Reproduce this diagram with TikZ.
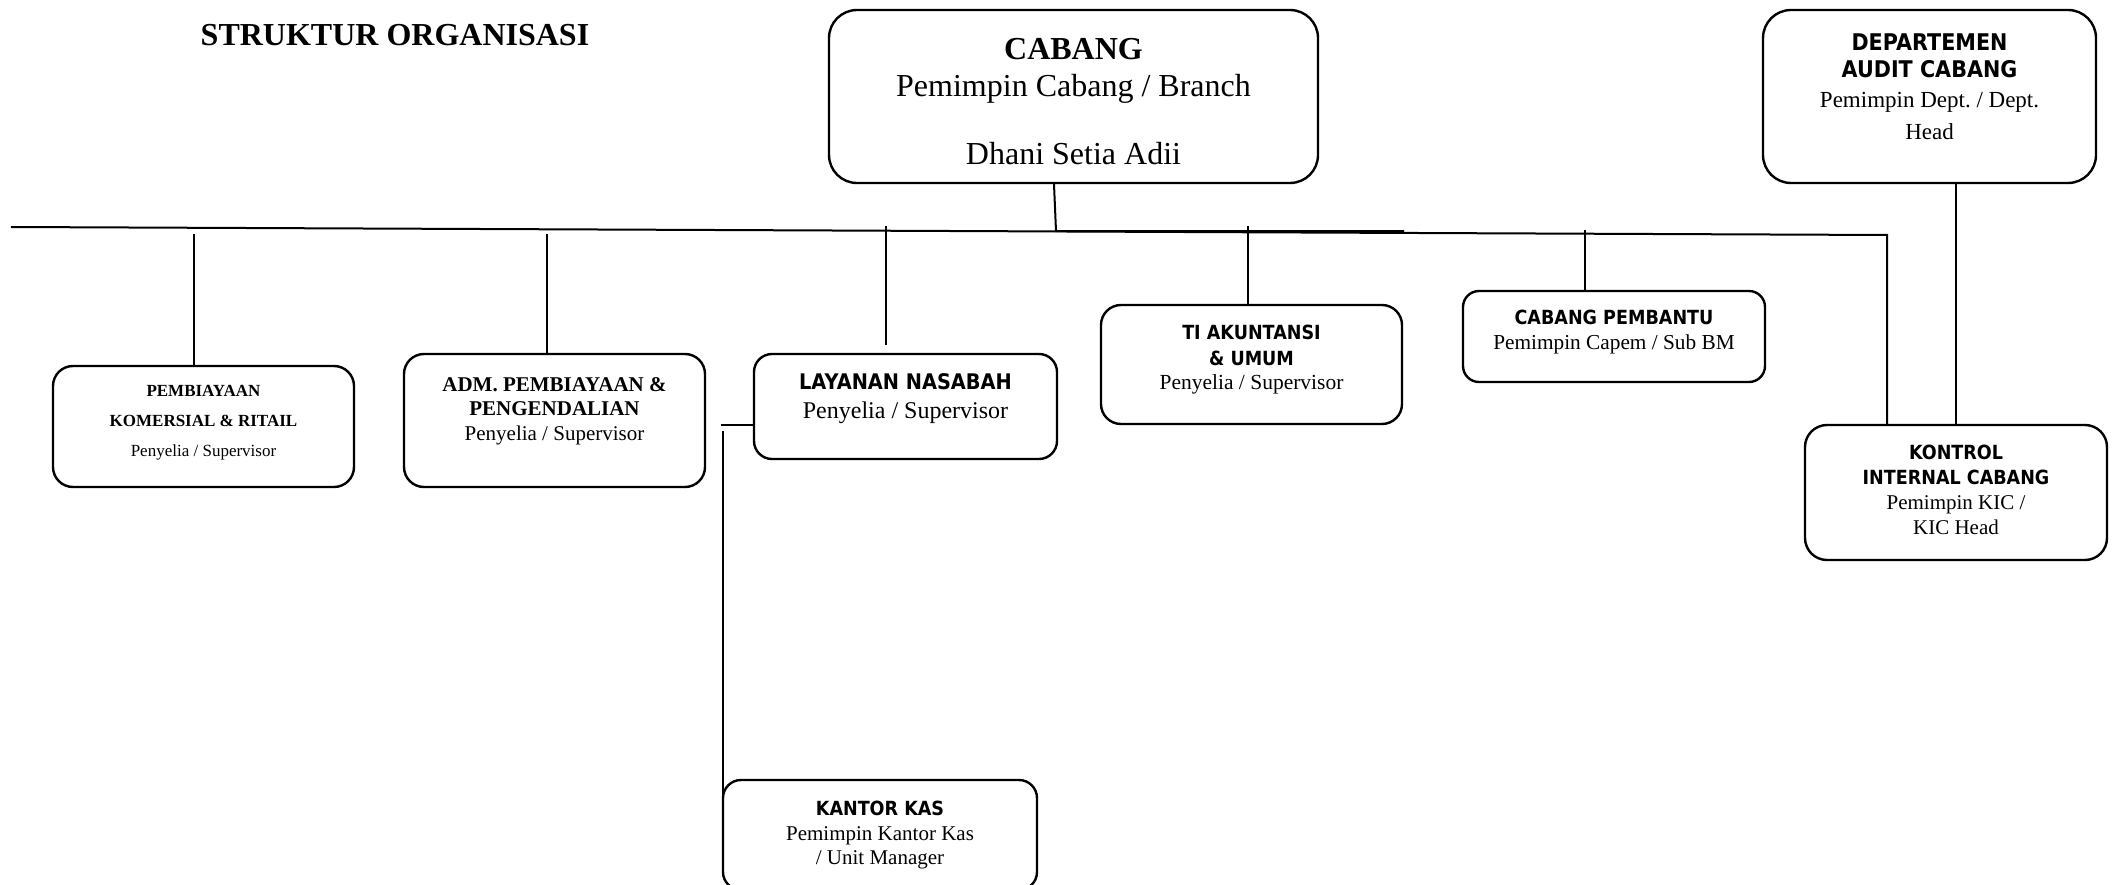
\documentclass[tikz,border=0pt]{standalone}
\usepackage{fontspec}
\setmainfont{Liberation Serif}
\newfontfamily\hdfont{DejaVu Sans}[FakeStretch=0.9]
\newcommand\setsz[2]{\fontsize{#1}{#2}\selectfont}
\newcommand\headtxt[2][19.5]{{\hdfont\bfseries\fontsize{#1}{#1}\selectfont #2}}
\newcommand\padtop[1]{\rule{0pt}{#1}}
\newcommand\padlow[1]{\rule[-#1]{0pt}{#1}}
\frenchspacing
\colorlet{box edge}{black}
\colorlet{line edge}{black}
\tikzset{unit/.style={draw=box edge, line width=2.4pt, rounded corners=#1, align=center, inner sep=0pt},
    unit/.default=20pt,
    link/.style={draw=line edge, line width=2pt}}

\begin{document}
\begin{tikzpicture}[x=1pt, y=-1pt]
    \useasboundingbox (0,0) rectangle (2112,885);
    \node (title) at (395,35) {\setsz{32}{36}\bfseries STRUKTUR ORGANISASI};

    \node[unit=28pt, minimum width=489pt, minimum height=173pt, font=\setsz{32}{37}] (cab) at (1073.5,96.5)
        {\padtop{31pt}\bfseries CABANG\\ Pemimpin Cabang / Branch\\[31pt] Dhani Setia Adii};
    \node[unit=28pt, minimum width=333pt, minimum height=173pt, font=\setsz{23}{27}] (dept) at (1929.5,96.5)
        {\headtxt[23]{DEPARTEMEN}\\ \headtxt[23]{AUDIT CABANG}\\[3pt] Pemimpin Dept. / Dept.\\[5pt] Head\padlow{20pt}};

    \node[unit, minimum width=301pt, minimum height=121pt, font=\setsz{17}{30}] (pemb) at (203.5,426.5)
        {\bfseries PEMBIAYAAN\\ \bfseries KOMERSIAL \& RITAIL\\ Penyelia / Supervisor\padlow{12pt}};
    \node[unit, minimum width=301pt, minimum height=133pt, font=\setsz{21}{24}] (adm) at (554.5,420.5)
        {\bfseries ADM. PEMBIAYAAN \&\\ \bfseries PENGENDALIAN\\[1pt] Penyelia / Supervisor\padlow{23pt}};
    \node[unit=18pt, minimum width=303pt, minimum height=105pt, font=\setsz{24}{29}] (lay) at (905.5,406.5)
        {\headtxt[21.5]{LAYANAN NASABAH}\\ Penyelia / Supervisor\padlow{20pt}};
    \node[unit, minimum width=301pt, minimum height=119pt, font=\setsz{21.5}{25}] (ti) at (1251.5,364.5)
        {\headtxt{TI AKUNTANSI}\\[1pt] \headtxt{\& UMUM}\\[-1pt] Penyelia / Supervisor\padlow{15pt}};
    \node[unit=16pt, minimum width=302pt, minimum height=91pt, font=\setsz{21.3}{25}] (capem) at (1614,336.5)
        {\headtxt{CABANG PEMBANTU}\\ Pemimpin Capem / Sub BM\padlow{13pt}};
    \node[unit=22pt, minimum width=302pt, minimum height=135pt, font=\setsz{21}{25}] (kic) at (1956,492.5)
        {\headtxt{KONTROL}\\ \headtxt{INTERNAL CABANG}\\ Pemimpin KIC /\\ KIC Head\padlow{5pt}};
    \node[unit=18pt, minimum width=314pt, minimum height=110pt, font=\setsz{21}{24}] (kas) at (880,835)
        {\headtxt{KANTOR KAS}\\[1pt] Pemimpin Kantor Kas\\ / Unit Manager};

    \coordinate (busL) at (11,227);
    \coordinate (busR) at (1887,235);
    \draw[link] (busL) -- (busR) -- (busR |- kic.north);
    \draw[link] ([xshift=-19.5pt]cab.south) -- ++(2,47) -- ++(348,0);
    \foreach \n/\x/\t/\g in {pemb/194/234/0, adm/547/234/0, lay/886/226/8, ti/1248/226/0, capem/1585/230/0}
        \draw[link, shorten >=\g pt] (\x,\t) -- (\n.north -| \x,\t);
    \draw[link] (kic.north) -- (kic.north |- dept.south);
    \draw[link] ([yshift=-18.5pt]lay.west) -- ++(-32,0);
    \coordinate (kk) at (723,431);
    \draw[link] (kk) -- (kk |- kas.west);
\end{tikzpicture}
\end{document}
